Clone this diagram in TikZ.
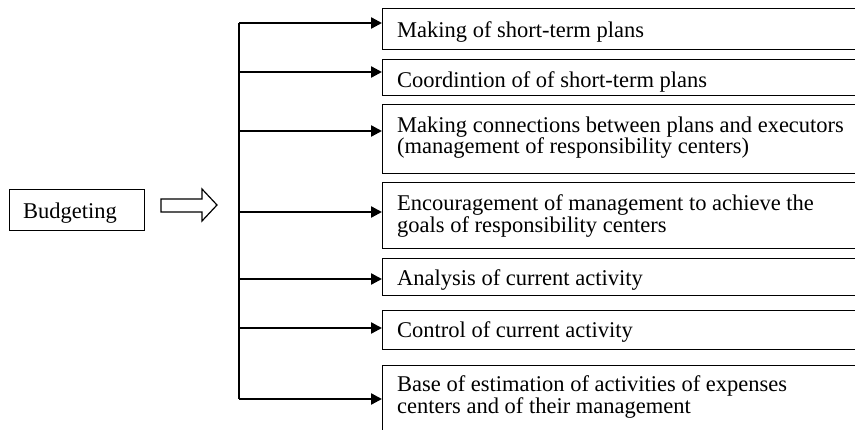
\documentclass[tikz,border=0pt]{standalone}
\usepackage{fontspec}
\setmainfont{Liberation Serif}
\usetikzlibrary{arrows.meta}
\begin{document}
\begin{tikzpicture}[x=1pt,y=-1pt,
  box/.style={draw=black, line width=1.2pt, inner sep=0pt, minimum width=520pt, anchor=north west},
  bbox/.style={draw=black, line width=1.2pt, inner sep=0pt, anchor=north west},
  lbl/.style={anchor=base west, inner sep=0pt, font=\fontsize{22.5}{21.5}\selectfont},
  arr/.style={line width=2.4pt, -{Triangle[length=11pt,width=11pt]}},
  trunk/.style={line width=2pt},
  hollow/.style={draw=black, line width=1.2pt, line join=miter}]
\clip (0,0) rectangle (855,429);
\fill[white] (0,0) rectangle (855,429);
% boxes
\node[box, minimum height=41pt] (b1) at (382,8) {};
\node[box, minimum height=36pt] (b2) at (382,59) {};
\node[box, minimum height=69pt] (b3) at (382,104) {};
\node[box, minimum height=66pt] (b4) at (382,182) {};
\node[box, minimum height=37pt] (b5) at (382,258) {};
\node[box, minimum height=39pt] (b6) at (382,310) {};
\node[box, minimum height=80pt] (b7) at (382,365) {};
\node[bbox, minimum width=135pt, minimum height=41pt] (budget) at (9,189) {};
% texts
\node[lbl] (t1) at (397,37) {Making of short-term plans};
\begin{scope}
\clip (b2.north west) rectangle (b2.south east);
\node[lbl] (t2) at (397,87) {Coordintion of of short-term plans};
\end{scope}
\node[lbl] (t3a) at (397,132) {Making connections between plans and executors};
\node[lbl] (t3b) at (397,153) {(management of responsibility centers)};
\node[lbl] (t4a) at (397,210) {Encouragement of management to achieve the};
\node[lbl] (t4b) at (397,232) {goals of responsibility centers};
\node[lbl] (t5) at (397,285) {Analysis of current activity};
\node[lbl] (t6) at (397,337) {Control of current activity};
\node[lbl] (t7a) at (397,391) {Base of estimation of activities of expenses};
\node[lbl] (t7b) at (397,413) {centers and of their management};
\node[lbl] (tb) at (23,218) {Budgeting};
% hollow arrow
\draw[hollow] (161,199) -- (202,199) -- (202,189) -- (217,205) -- (202,221) -- (202,212) -- (161,212) -- cycle;
% trunk and arrows
\coordinate (c1) at (239,23);
\coordinate (c2) at (239,72);
\coordinate (c3) at (239,131);
\coordinate (c4) at (239,212);
\coordinate (c5) at (239,279);
\coordinate (c6) at (239,328);
\coordinate (c7) at (239,399);
\draw[trunk] (c1) -- (c7);
\draw[arr] (c1) -- (c1 -| b1.west);
\draw[arr] (c2) -- (c2 -| b2.west);
\draw[arr] (c3) -- (c3 -| b3.west);
\draw[arr] (c4) -- (c4 -| b4.west);
\draw[arr] (c5) -- (c5 -| b5.west);
\draw[arr] (c6) -- (c6 -| b6.west);
\draw[arr] (c7) -- (c7 -| b7.west);
\end{tikzpicture}
\end{document}
